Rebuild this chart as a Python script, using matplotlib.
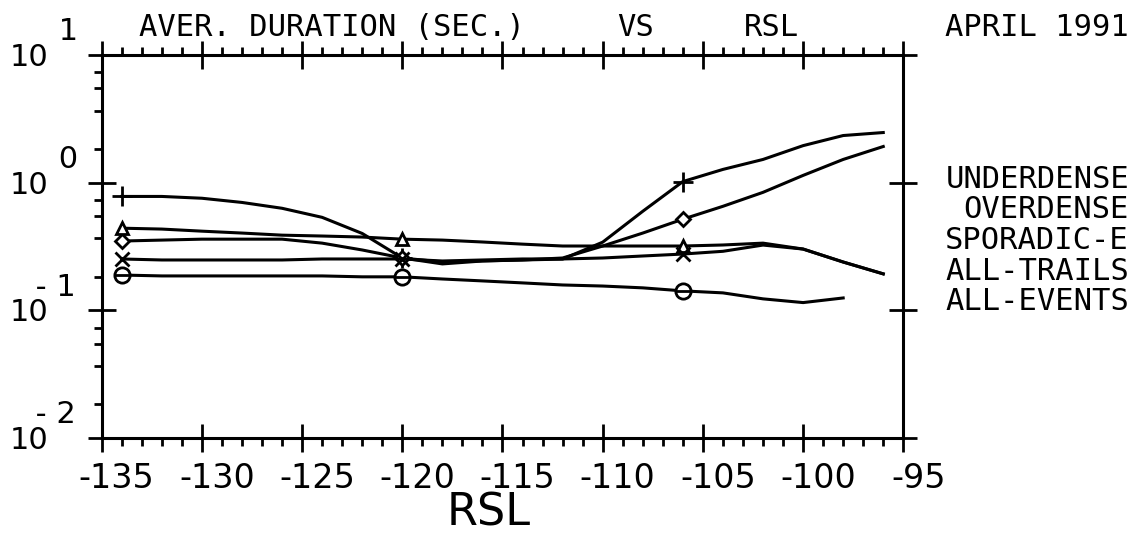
import numpy as np
import matplotlib
matplotlib.use('Agg')
import matplotlib.pyplot as plt
import matplotlib.transforms as mtransforms
from matplotlib.ticker import FixedLocator, NullFormatter

# RSL grid (dB) and average duration (sec) per trail type
rsl = [-134, -132, -130, -128, -126, -124, -122, -120, -118, -116,
       -114, -112, -110, -108, -106, -104, -102, -100, -98, -96]
underdense = [0.78, 0.78, 0.755, 0.70, 0.63, 0.535, 0.40, 0.257, 0.239, 0.244,
              0.248, 0.252, 0.342, 0.597, 1.02, 1.27, 1.52, 1.95, 2.34, 2.47]
overdense = [0.349, 0.355, 0.361, 0.361, 0.361, 0.336, 0.297, 0.257, 0.231, 0.2435,
             0.248, 0.257, 0.319, 0.403, 0.5175, 0.653, 0.84, 1.14, 1.52, 1.92]
sporadic_e = [0.44, 0.433, 0.417, 0.403, 0.388, 0.382, 0.375, 0.361, 0.355, 0.343,
              0.33, 0.319, 0.319, 0.319, 0.319, 0.325, 0.336, 0.302, 0.239, 0.193]
all_trails = [0.2525, 0.248, 0.248, 0.248, 0.248, 0.2525, 0.2525, 0.2525, 0.2435, 0.248,
              0.2525, 0.2525, 0.257, 0.2665, 0.276, 0.29, 0.3245, 0.302, 0.239, 0.193]
all_events = [0.189, 0.186, 0.186, 0.186, 0.186, 0.186, 0.183, 0.183, 0.176, 0.170,
              0.164, 0.158, 0.155, 0.150, 0.142, 0.137, 0.123, 0.115, 0.125, np.nan]

legend_names = ['UNDERDENSE', 'OVERDENSE', 'SPORADIC-E', 'ALL-TRAILS', 'ALL-EVENTS']
xtick_vals = [-135, -130, -125, -120, -115, -110, -105, -100, -95]
xtick_labels = ['-135', '-130', '-125', '-120', '-115', '-110', '-105', '-100', '-95']
ydecades = [-2, -1, 0, 1]

W, H = 1132, 533
fig = plt.figure(figsize=(W / 100, H / 100), dpi=100)
ax = fig.add_axes([101.7 / W, 1 - 438 / H, 801.6 / W, 383 / H])

marks = [0, 7, 14]
lw = 2.2
ax.plot(rsl, underdense, color='black', lw=lw, marker='+', ms=14, mew=2, markevery=marks)
ax.plot(rsl, overdense, color='black', lw=lw, marker='D', ms=7, mew=2, mfc='white', markevery=marks)
ax.plot(rsl, sporadic_e, color='black', lw=lw, marker='^', ms=9, mew=2, mfc='white', markevery=marks)
ax.plot(rsl, all_trails, color='black', lw=lw, marker='x', ms=10, mew=2, markevery=marks)
ax.plot(rsl, all_events, color='black', lw=lw, marker='o', ms=11, mew=2, mfc='white', markevery=marks)
ax.plot(rsl, all_events, ls='none', color='black', marker='_', ms=11, mew=2, markevery=marks)

ax.set_yscale('log')
ax.set_xlim(-135, -95)
ax.set_ylim(1e-2, 1e1)

for s in ax.spines.values():
    s.set_linewidth(2.2)

# x ticks
ax.xaxis.set_major_locator(FixedLocator(xtick_vals))
ax.set_xticklabels(xtick_labels)
ax.xaxis.set_minor_locator(FixedLocator([v for v in range(-135, -94) if v % 5 != 0]))
ax.tick_params(axis='x', which='major', direction='inout', length=20, width=2,
               top=True, bottom=True, labelsize=24, pad=7)
ax.tick_params(axis='x', which='minor', direction='out', length=6, width=2,
               top=True, bottom=True)
shift = mtransforms.ScaledTranslation(0.15, 0, fig.dpi_scale_trans)
for lab in ax.get_xticklabels():
    lab.set_transform(lab.get_transform() + shift)

# y ticks
fr = [0.265, 0.565, 0.74, 0.865]
ax.yaxis.set_major_locator(FixedLocator([10.0 ** d for d in ydecades]))
ax.yaxis.set_minor_locator(FixedLocator([10 ** (d + f) for d in (-2, -1, 0) for f in fr]))
ax.yaxis.set_minor_formatter(NullFormatter())
ax.tick_params(axis='y', which='major', direction='inout', length=20, width=2,
               left=True, right=True, labelleft=False)
ax.tick_params(axis='y', which='minor', direction='out', length=6, width=2,
               left=True, right=False)

# y tick labels: "10" with the exponent on a raised line above it
for d in ydecades:
    if d < 0:
        top = '  \u2009- ' + str(-d)
    else:
        top = '     ' + str(d)
    ax.annotate(top + '\n10', xy=(0, 10.0 ** d), xycoords=('axes fraction', 'data'),
                xytext=(-91.7, -11), textcoords='offset pixels',
                ha='left', va='baseline', linespacing=0.85,
                fontsize=22, family='DejaVu Sans')

mono = dict(family='DejaVu Sans Mono', fontsize=22, va='baseline')
fig.text(139 / W, 1 - 36 / H, 'AVER. DURATION (SEC.)', ha='left', **mono)
fig.text(617 / W, 1 - 36 / H, 'VS', ha='left', **mono)
fig.text(744 / W, 1 - 36 / H, 'RSL', ha='left', **mono)
fig.text(1129 / W, 1 - 36 / H, 'APRIL 1991', ha='right', **mono)

for i, name in enumerate(legend_names):
    fig.text(1129 / W, 1 - (188 + 30.5 * i) / H, name, ha='right', **mono)

fig.text(489 / W, 1 - 513 / H, 'RSL', ha='center', va='center', fontsize=32, family='DejaVu Sans')

fig.savefig('out.png', dpi=100)
